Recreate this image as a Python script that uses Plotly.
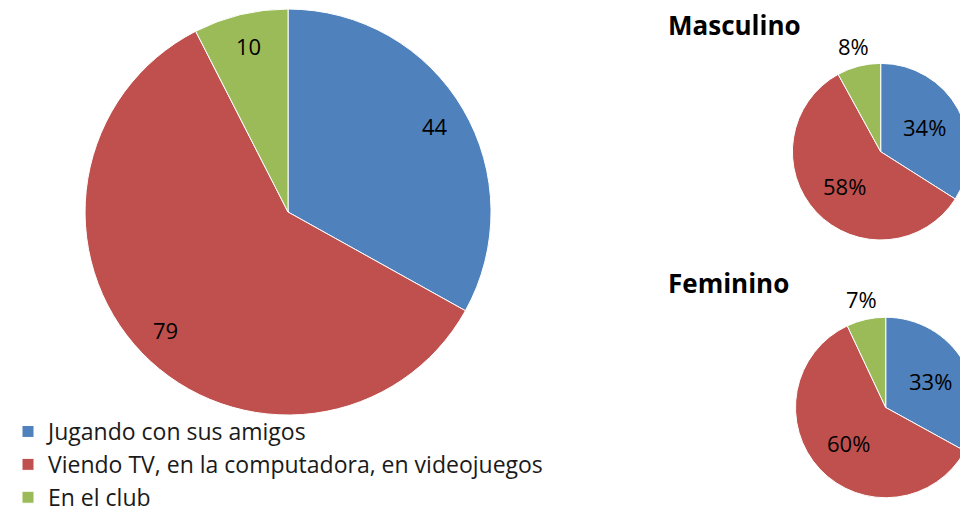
import math
import plotly.graph_objects as go

categories = ["Jugando con sus amigos",
              "Viendo TV, en la computadora, en videojuegos",
              "En el club"]
total_values = [44, 79, 10]
masculino_pct = [34, 58, 8]
femenino_pct = [33, 60, 7]

W, H = 968, 511
colors = ["#4F81BD", "#C0504D", "#9BBB59"]
font_family = "'Open Sans', sans-serif"
text_color = "#000000"

big_domain = dict(x=[0.0796, 0.4990], y=[0.2035, 0.9980])
masc_domain = dict(x=[0.8103, 0.9928], y=[0.5460, 0.8916])
fem_domain = dict(x=[0.8135, 1.0], y=[0.0416, 0.3948])


def label_positions(values, dom, fracs):
    # mid-angle of each slice (clockwise from 12 o'clock), placed at fracs * radius
    x0, x1 = dom["x"]
    y0, y1 = dom["y"]
    r = min((x1 - x0) * W, (y1 - y0) * H) / 2
    cx, cy = (x0 + x1) / 2, (y0 + y1) / 2
    total = sum(values)
    cum = 0
    out = []
    for v, f in zip(values, fracs):
        mid = (cum + v / 2) / total * 2 * math.pi
        cum += v
        out.append((cx + f * r * math.sin(mid) / W, cy + f * r * math.cos(mid) / H))
    return out


def add_pie(vals, dom, legend):
    fig.add_trace(go.Pie(
        labels=categories, values=vals,
        sort=False, direction="clockwise", rotation=0,
        marker=dict(colors=colors, line=dict(color="white", width=1)),
        textinfo="none", hoverinfo="label+value",
        domain=dom, showlegend=legend,
    ))


fig = go.Figure()
add_pie(total_values, big_domain, True)
add_pie(masculino_pct, masc_domain, False)
add_pie(femenino_pct, fem_domain, False)

labels = []
for (x, y), v in zip(label_positions(total_values, big_domain, [0.84, 0.84, 0.84]), total_values):
    labels.append((x, y, str(v)))
for vals, dom in [(masculino_pct, masc_domain), (femenino_pct, fem_domain)]:
    for (x, y), v in zip(label_positions(vals, dom, [0.57, 0.57, 1.23]), vals):
        labels.append((x, y, f"{v}%"))

for x, y, t in labels:
    fig.add_annotation(text=t, x=x, y=y, xref="paper", yref="paper",
                       xanchor="center", yanchor="middle", showarrow=False,
                       font=dict(size=22, color=text_color, family=font_family))

fig.add_annotation(text="<b>Masculino</b>", x=0.6798, y=0.9668, xref="paper", yref="paper",
                   xanchor="left", yanchor="middle", showarrow=False,
                   font=dict(size=26, color="black", family=font_family))
fig.add_annotation(text="<b>Feminino</b>", x=0.6798, y=0.4618, xref="paper", yref="paper",
                   xanchor="left", yanchor="middle", showarrow=False,
                   font=dict(size=26, color="black", family=font_family))

fig.update_layout(
    width=W, height=H,
    margin=dict(l=0, r=0, t=0, b=0),
    paper_bgcolor="white", plot_bgcolor="white",
    legend=dict(x=0, y=0.0, xanchor="left", yanchor="bottom",
                font=dict(size=23, color="#1a1a1a", family=font_family),
                tracegroupgap=0, bgcolor="rgba(0,0,0,0)"),
)

fig.write_html("out.html")
